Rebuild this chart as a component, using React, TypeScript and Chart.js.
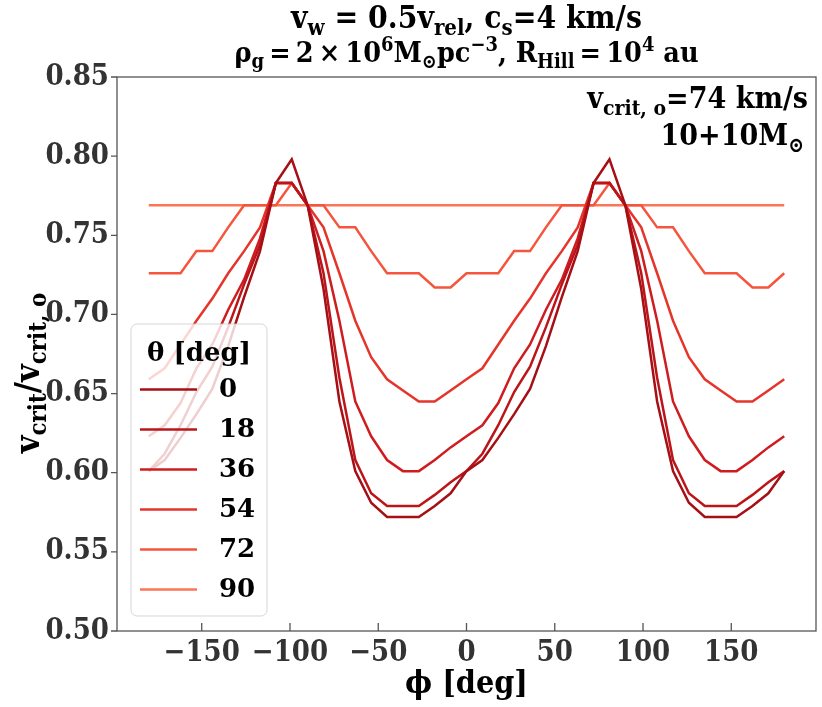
import { useEffect, useRef } from "react";
import { Chart, registerables } from "chart.js";

Chart.register(...registerables);

const PHI = [
  -180, -171, -162, -153, -144, -135, -126, -117, -108, -99, -90, -81, -72, -63, -54, -45, -36, -27, -18, -9, 0,
  9, 18, 27, 36, 45, 54, 63, 72, 81, 90, 99, 108, 117, 126, 135, 144, 153, 162, 171, 180,
];

const THETA_LABELS = ["0", "18", "36", "54", "72", "90"];

const V_T0 = [
  0.601, 0.608, 0.622, 0.637, 0.653, 0.68, 0.711, 0.74, 0.783, 0.798, 0.769, 0.716, 0.645, 0.601, 0.581, 0.572, 0.572, 0.572, 0.579, 0.587, 0.601,
  0.608, 0.622, 0.637, 0.653, 0.68, 0.711, 0.74, 0.783, 0.798, 0.769, 0.716, 0.645, 0.601, 0.581, 0.572, 0.572, 0.572, 0.579, 0.587, 0.601,
];
const V_T18 = [
  0.601, 0.612, 0.63, 0.651, 0.667, 0.692, 0.719, 0.744, 0.783, 0.783, 0.769, 0.726, 0.66, 0.608, 0.587, 0.579, 0.579, 0.579, 0.586, 0.594, 0.601,
  0.612, 0.63, 0.651, 0.667, 0.692, 0.719, 0.744, 0.783, 0.783, 0.769, 0.726, 0.66, 0.608, 0.587, 0.579, 0.579, 0.579, 0.586, 0.594, 0.601,
];
const V_T36 = [
  0.623, 0.63, 0.644, 0.666, 0.681, 0.703, 0.722, 0.748, 0.783, 0.783, 0.769, 0.74, 0.696, 0.645, 0.623, 0.608, 0.601, 0.601, 0.608, 0.616, 0.623,
  0.63, 0.644, 0.666, 0.681, 0.703, 0.722, 0.748, 0.783, 0.783, 0.769, 0.74, 0.696, 0.645, 0.623, 0.608, 0.601, 0.601, 0.608, 0.616, 0.623,
];
const V_T54 = [
  0.659, 0.666, 0.681, 0.696, 0.71, 0.726, 0.74, 0.755, 0.783, 0.783, 0.769, 0.755, 0.726, 0.696, 0.673, 0.659, 0.652, 0.645, 0.645, 0.652, 0.659,
  0.666, 0.681, 0.696, 0.71, 0.726, 0.74, 0.755, 0.783, 0.783, 0.769, 0.755, 0.726, 0.696, 0.673, 0.659, 0.652, 0.645, 0.645, 0.652, 0.659,
];
const V_T72 = [
  0.726, 0.726, 0.726, 0.74, 0.74, 0.755, 0.769, 0.769, 0.769, 0.783, 0.769, 0.769, 0.755, 0.755, 0.74, 0.726, 0.726, 0.726, 0.717, 0.717, 0.726,
  0.726, 0.726, 0.74, 0.74, 0.755, 0.769, 0.769, 0.769, 0.783, 0.769, 0.769, 0.755, 0.755, 0.74, 0.726, 0.726, 0.726, 0.717, 0.717, 0.726,
];
const V_T90 = [
  0.769, 0.769, 0.769, 0.769, 0.769, 0.769, 0.769, 0.769, 0.769, 0.769, 0.769, 0.769, 0.769, 0.769, 0.769, 0.769, 0.769, 0.769, 0.769, 0.769, 0.769,
  0.769, 0.769, 0.769, 0.769, 0.769, 0.769, 0.769, 0.769, 0.769, 0.769, 0.769, 0.769, 0.769, 0.769, 0.769, 0.769, 0.769, 0.769, 0.769, 0.769,
];

const SERIES = [V_T0, V_T18, V_T36, V_T54, V_T72, V_T90];
const COLORS = ["#a50f15", "#bb151a", "#cf1c1f", "#e5352a", "#f4553c", "#fc7557"];

const X_TICKS = [-150, -100, -50, 0, 50, 100, 150];
const Y_TICKS = [0.5, 0.55, 0.6, 0.65, 0.7, 0.75, 0.8, 0.85];

const FONT = "'DejaVu Serif', serif";
const FONT_C = "'DejaVu Serif Condensed', 'DejaVu Serif', serif";
const AXIS_GRAY = "#555";
const TH = "\u2009";

type Run = { t: string; s?: "sub" | "sup" };

function drawRich(
  ctx: CanvasRenderingContext2D,
  runs: Run[],
  x: number,
  y: number,
  size: number,
  align: "left" | "center" | "right",
  family = FONT_C
) {
  const fontFor = (r: Run) => `bold ${r.s ? size * 0.7 : size}px ${family}`;
  let w = 0;
  for (const r of runs) {
    ctx.font = fontFor(r);
    w += ctx.measureText(r.t).width;
  }
  let cx = align === "center" ? x - w / 2 : align === "right" ? x - w : x;
  ctx.textAlign = "left";
  ctx.textBaseline = "alphabetic";
  ctx.fillStyle = "#000";
  for (const r of runs) {
    ctx.font = fontFor(r);
    const dy = r.s === "sub" ? size * 0.22 : r.s === "sup" ? -size * 0.38 : 0;
    ctx.fillText(r.t, cx, y + dy);
    cx += ctx.measureText(r.t).width;
  }
}

const decorations = {
  id: "decorations",
  afterDatasetsDraw(chart: any) {
    const { ctx, chartArea } = chart;
    const { left, right, top, bottom } = chartArea;
    const xs = chart.scales.x;
    const ys = chart.scales.y;
    ctx.save();

    // frame + ticks
    ctx.strokeStyle = AXIS_GRAY;
    ctx.lineWidth = 1.3;
    ctx.strokeRect(left, top, right - left, bottom - top);
    ctx.beginPath();
    for (const v of X_TICKS) {
      const px = xs.getPixelForValue(v);
      ctx.moveTo(px, bottom);
      ctx.lineTo(px, bottom - 8);
    }
    for (const v of Y_TICKS) {
      const py = ys.getPixelForValue(v);
      ctx.moveTo(left - 6, py);
      ctx.lineTo(left, py);
    }
    ctx.stroke();

    // legend
    const lx = 131, ly = 324, lw = 136, lh = 292;
    ctx.beginPath();
    ctx.roundRect(lx, ly, lw, lh, 6);
    ctx.fillStyle = "rgba(255,255,255,0.8)";
    ctx.fill();
    ctx.strokeStyle = "rgba(204,204,204,0.8)";
    ctx.lineWidth = 1;
    ctx.stroke();
    drawRich(ctx, [{ t: "θ [deg]" }], lx + lw / 2, 361, 26, "center", FONT);
    chart.data.datasets.forEach((ds: any, i: number) => {
      const yy = 389.5 + 40 * i;
      ctx.beginPath();
      ctx.strokeStyle = ds.borderColor;
      ctx.lineWidth = 2.5;
      ctx.moveTo(140, yy);
      ctx.lineTo(197, yy);
      ctx.stroke();
      ctx.font = `bold 26px ${FONT}`;
      ctx.fillStyle = "#000";
      ctx.textAlign = "left";
      ctx.textBaseline = "middle";
      ctx.fillText(ds.label, 219, yy + 1);
    });

    // titles and notes
    const cx = (left + right) / 2;
    drawRich(
      ctx,
      [{ t: "v" }, { t: "w", s: "sub" }, { t: " = 0.5v" }, { t: "rel", s: "sub" }, { t: ", c" }, { t: "s", s: "sub" }, { t: "=4 km/s" }],
      cx, 28, 31.5, "center"
    );
    drawRich(
      ctx,
      [
        { t: "ρ" }, { t: "g", s: "sub" }, { t: `${TH}=${TH}2${TH}×${TH}10` }, { t: "6", s: "sup" }, { t: "M" }, { t: "⊙", s: "sub" },
        { t: "pc" }, { t: "−3", s: "sup" }, { t: ", R" }, { t: "Hill", s: "sub" }, { t: `${TH}=${TH}10` }, { t: "4", s: "sup" }, { t: " au" },
      ],
      cx, 62, 28.5, "center"
    );
    drawRich(ctx, [{ t: "v" }, { t: "crit, o", s: "sub" }, { t: "=74 km/s" }], right - 8, 108, 30, "right");
    drawRich(ctx, [{ t: "10+10M" }, { t: "⊙", s: "sub" }], right - 12, 145, 30, "right");

    ctx.save();
    ctx.translate(39, 373);
    ctx.rotate(-Math.PI / 2);
    drawRich(ctx, [{ t: "v" }, { t: "crit", s: "sub" }, { t: "/v" }, { t: "crit, o", s: "sub" }], 0, 0, 34, "center");
    ctx.restore();

    ctx.restore();
  },
};

export default function App() {
  const canvasRef = useRef<HTMLCanvasElement | null>(null);
  const chartRef = useRef<Chart | null>(null);

  useEffect(() => {
    if (!canvasRef.current) return;
    if (chartRef.current) chartRef.current.destroy();

    const tickFont = { family: FONT_C, size: 29, weight: "bold" as const };

    chartRef.current = new Chart(canvasRef.current, {
      type: "line",
      data: {
        datasets: SERIES.map((vals, i) => ({
          label: THETA_LABELS[i],
          data: PHI.map((x, j) => ({ x, y: vals[j] })),
          borderColor: COLORS[i],
          backgroundColor: COLORS[i],
          borderWidth: 2.5,
          pointRadius: 0,
          tension: 0,
          fill: false,
        })),
      },
      options: {
        animation: false,
        responsive: true,
        maintainAspectRatio: false,
        events: [],
        layout: { padding: { left: 0, right: 6, top: 77, bottom: 0 } },
        plugins: {
          legend: { display: false },
          title: { display: false },
          tooltip: { enabled: false },
        },
        scales: {
          x: {
            type: "linear",
            min: -198,
            max: 198,
            afterBuildTicks: (s: any) => {
              s.ticks = X_TICKS.map((value) => ({ value }));
            },
            afterFit: (s: any) => {
              s.height = 76;
            },
            grid: { display: false, drawTicks: false },
            border: { display: false },
            ticks: {
              font: tickFont,
              color: "#333",
              padding: 5,
              maxRotation: 0,
              autoSkip: false,
              callback: (v: any) => (Number(v) < 0 ? "\u2212" + Math.abs(Number(v)) : String(v)),
            },
            title: {
              display: true,
              text: "ϕ [deg]",
              color: "#000",
              font: { family: FONT_C, size: 32, weight: "bold" },
              padding: { top: 0, bottom: 3 },
            },
          },
          y: {
            min: 0.5,
            max: 0.85,
            afterBuildTicks: (s: any) => {
              s.ticks = Y_TICKS.map((value) => ({ value }));
            },
            afterFit: (s: any) => {
              s.width = 117;
            },
            grid: { display: false, drawTicks: false },
            border: { display: false },
            ticks: {
              font: tickFont,
              color: "#333",
              padding: 8,
              autoSkip: false,
              callback: (v: any) => Number(v).toFixed(2),
            },
          },
        },
      },
      plugins: [decorations],
    });

    return () => {
      if (chartRef.current) {
        chartRef.current.destroy();
        chartRef.current = null;
      }
    };
  }, []);

  return (
    <div style={{ position: "fixed", left: 0, top: 0, width: 822, height: 707, background: "#fff" }}>
      <canvas ref={canvasRef} />
    </div>
  );
}
